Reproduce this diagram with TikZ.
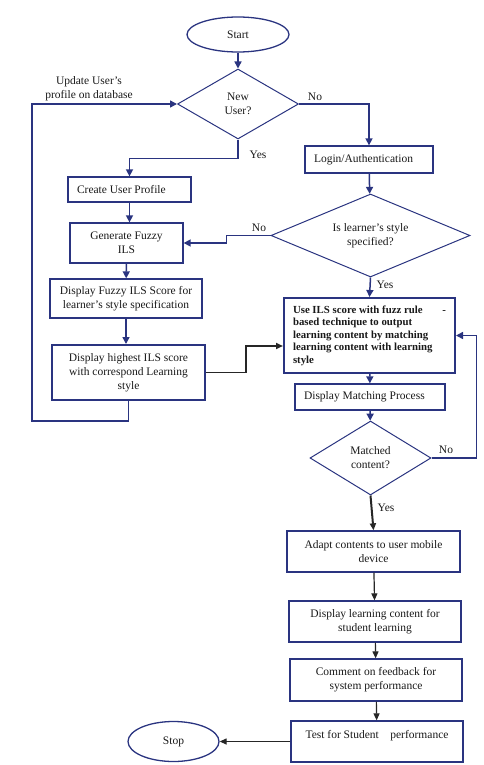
\documentclass[tikz,border=0pt]{standalone}
\usepackage{fontspec}
\setmainfont{Liberation Serif}
\usepackage{tikz}
\usetikzlibrary{shapes,shapes.geometric,arrows.meta,positioning,calc}
\definecolor{lineblue}{RGB}{42,52,128}

\tikzset{
  procbox/.style={rectangle, draw=lineblue, line width=1.3pt, inner sep=0pt, align=flush center, text=black!90},
  leftbox/.style={procbox, align=flush left, inner xsep=9pt},
  decision/.style={diamond, draw=lineblue, line width=1pt, inner sep=0pt, align=flush center, text=black!90},
  terminal/.style={ellipse, draw=lineblue, line width=1.3pt, inner sep=0pt, text=black!90},
  flowarrow/.style={draw=lineblue, line width=1.5pt, -{Triangle[length=7pt,width=7pt]}},
  blackarrow/.style={draw=black!85, line width=1.2pt, -{Triangle[length=7pt,width=6pt]}},
  flowlabel/.style={inner sep=0pt, text=black!90}
}

\begin{document}
\begin{tikzpicture}[x=1pt, y=-1pt, font=\fontsize{11.5}{14}\selectfont]

    \useasboundingbox (0,0) rectangle (483,765);

    % Nodes
    \node[terminal, minimum width=102pt, minimum height=35pt] (start) at (238,34.5) {Start};
    \node[decision, aspect=1.7, minimum width=121pt, minimum height=70pt] (newuser) at (238,104) {New\\User?};
    \node[leftbox, text width=110pt, minimum height=27pt] (login) at (369,159.5) {Login/Authentication};
    \node[leftbox, text width=105pt, minimum height=25pt] (create) at (129.5,189.5) {Create User Profile};
    \node[decision, aspect=2.4, minimum width=199pt, minimum height=83pt] (learnstyle) at (370.5,235.5) {Is learner’s style\\specified?};
    \node[procbox, text width=113pt, minimum height=40pt] (genils) at (126.5,243) {Generate Fuzzy\\ILS};
    \node[procbox, text width=152pt, minimum height=39pt] (dispfuzzy) at (126,298.5) {Display Fuzzy ILS Score for\\learner’s style specification};
    \node[procbox, line width=2pt, text width=153pt, minimum height=55pt] (disphigh) at (128.5,372.5) {Display highest ILS score\\with correspond Learning\\style};
    \node[leftbox, line width=2pt, text width=153pt, minimum height=75pt, font=\fontsize{10.8}{12.5}\selectfont\bfseries] (useils) at (369.5,335.5)
      {Use ILS score with fuzz rule\hfill-\\based technique to output\\learning content by matching\\learning content with learning\\style};
    \node[leftbox, text width=132pt, minimum height=26pt] (dispmatch) at (370,397) {Display Matching Process};
    \node[decision, aspect=1.6, minimum width=121pt, minimum height=74pt] (matched) at (370.5,458) {Matched\\content?};
    \node[procbox, text width=173pt, minimum height=41pt] (adapt) at (373.5,551.5) {Adapt contents to user mobile\\device};
    \node[procbox, text width=172pt, minimum height=41pt] (displearn) at (375,621.5) {Display learning content for\\student learning};
    \node[procbox, text width=172pt, minimum height=42pt] (comment) at (376,680) {Comment on feedback for\\system performance};
    \node[procbox, text width=172pt, minimum height=41pt] (testperf) at (377,741.5) {Test for Student\quad performance\\\mbox{}};
    \node[terminal, minimum width=91pt, minimum height=40pt] (stop) at (173.5,741.5) {Stop};

    % Loop corner
    \coordinate (loopcorner) at (32,421);

    % Connectors
    \draw[flowarrow] (start) -- (newuser);
    \draw[flowarrow] (newuser.east) -| (login.north);
    \draw[flowarrow] (newuser.south) -- ++(0,19) -| (create.north);
    \draw[flowarrow] (create.south) -- (create.south |- genils.north);
    \draw[flowarrow] (genils) -- (dispfuzzy);
    \draw[flowarrow] (dispfuzzy.south) -- (dispfuzzy.south |- disphigh.north);
    \draw[flowarrow] (disphigh.south) |- (loopcorner) |- (newuser.west);
    \draw[flowarrow] (login) -- (learnstyle);
    \draw[flowarrow] (learnstyle.west) -- ++(-44,0) |- (genils.east);
    \draw[flowarrow] (learnstyle.south) -- (useils.north);
    \draw[blackarrow, line width=1.8pt] (disphigh.east) -- ++(40,0) |- ([yshift=-10.5pt]useils.west);
    \draw[flowarrow] (useils) -- (dispmatch);
    \draw[flowarrow] (dispmatch) -- (matched);
    \draw[flowarrow] (matched.east) -- ++(45,0) |- (useils.east);
    \draw[blackarrow, line width=2pt] (matched.south) -- (adapt.north);
    \draw[blackarrow] (adapt) -- (displearn);
    \draw[blackarrow] (displearn) -- (comment);
    \draw[blackarrow] (comment) -- (testperf);
    \draw[blackarrow] (testperf.west) -- (stop.east);

    % Labels
    \node[flowlabel, align=center] (updatelbl) at (89,89) {Update User’s\\profile on database};
    \node[flowlabel] (nouser) at (315,97) {No};
    \node[flowlabel] (yesuser) at (258,155) {Yes};
    \node[flowlabel] (nostyle) at (259,228) {No};
    \node[flowlabel] (yesstyle) at (385,285) {Yes};
    \node[flowlabel] (nomatch) at (446,450) {No};
    \node[flowlabel] (yesmatch) at (386,508) {Yes};

\end{tikzpicture}
\end{document}
